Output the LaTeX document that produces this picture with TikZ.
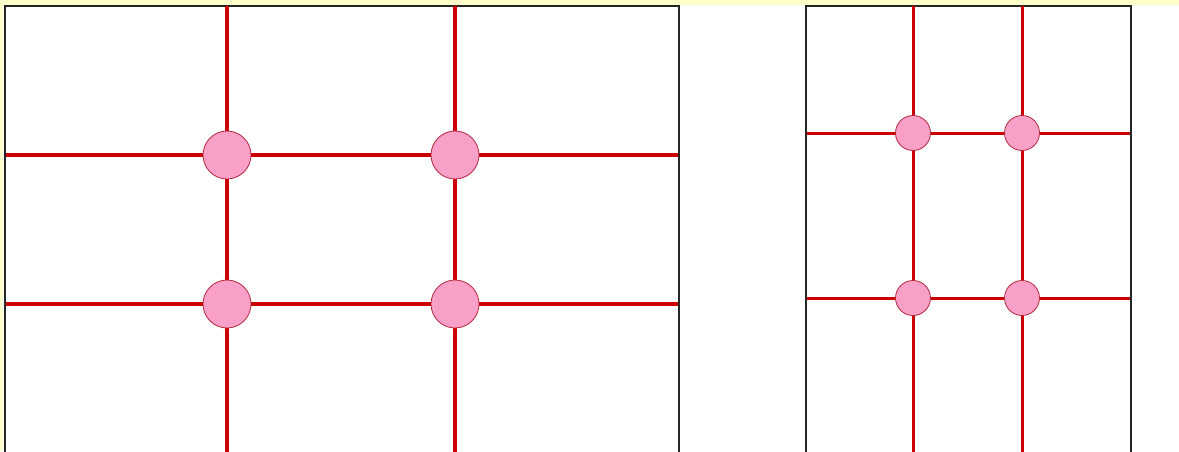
\documentclass[tikz,border=0pt]{standalone}
\definecolor{gridred}{RGB}{204,0,0}
\definecolor{dotpink}{RGB}{248,160,200}
\definecolor{dotedge}{RGB}{180,40,60}
\definecolor{strip}{RGB}{255,255,204}
\tikzset{
  frame/.style={draw=black!85, line width=2.2pt},
  bigline/.style={draw=gridred, line width=4.5pt},
  smallline/.style={draw=gridred, line width=3pt},
  bigdot/.style={circle, fill=dotpink, draw=dotedge, line width=0.8pt, minimum size=48pt, inner sep=0pt},
  smalldot/.style={circle, fill=dotpink, draw=dotedge, line width=0.8pt, minimum size=35pt, inner sep=0pt}
}
\begin{document}
\begin{tikzpicture}[x=1pt,y=-1pt]
\useasboundingbox (0,0) rectangle (1179,451);
\fill[white] (0,0) rectangle (1179,451);
\fill[strip] (0,0) rectangle (1179,5);
\fill[strip] (0,0) rectangle (3,451);
% left frame
\draw[frame] (5,460) -- (5,6) -- (679,6) -- (679,460);
\draw[bigline] (227,6) -- (227,460);
\draw[bigline] (455,6) -- (455,460);
\draw[bigline] (6,155) -- (678,155);
\draw[bigline] (6,304) -- (678,304);
\node[bigdot] (a1) at (227,155) {};
\node[bigdot] (a2) at (455,155) {};
\node[bigdot] (a3) at (227,304) {};
\node[bigdot] (a4) at (455,304) {};
% right frame
\draw[frame] (806,460) -- (806,6) -- (1131,6) -- (1131,460);
\draw[smallline] (913,6) -- (913,460);
\draw[smallline] (1022,6) -- (1022,460);
\draw[smallline] (807,133) -- (1130,133);
\draw[smallline] (807,298) -- (1130,298);
\node[smalldot] (b1) at (913,133) {};
\node[smalldot] (b2) at (1022,133) {};
\node[smalldot] (b3) at (913,298) {};
\node[smalldot] (b4) at (1022,298) {};
\end{tikzpicture}
\end{document}
